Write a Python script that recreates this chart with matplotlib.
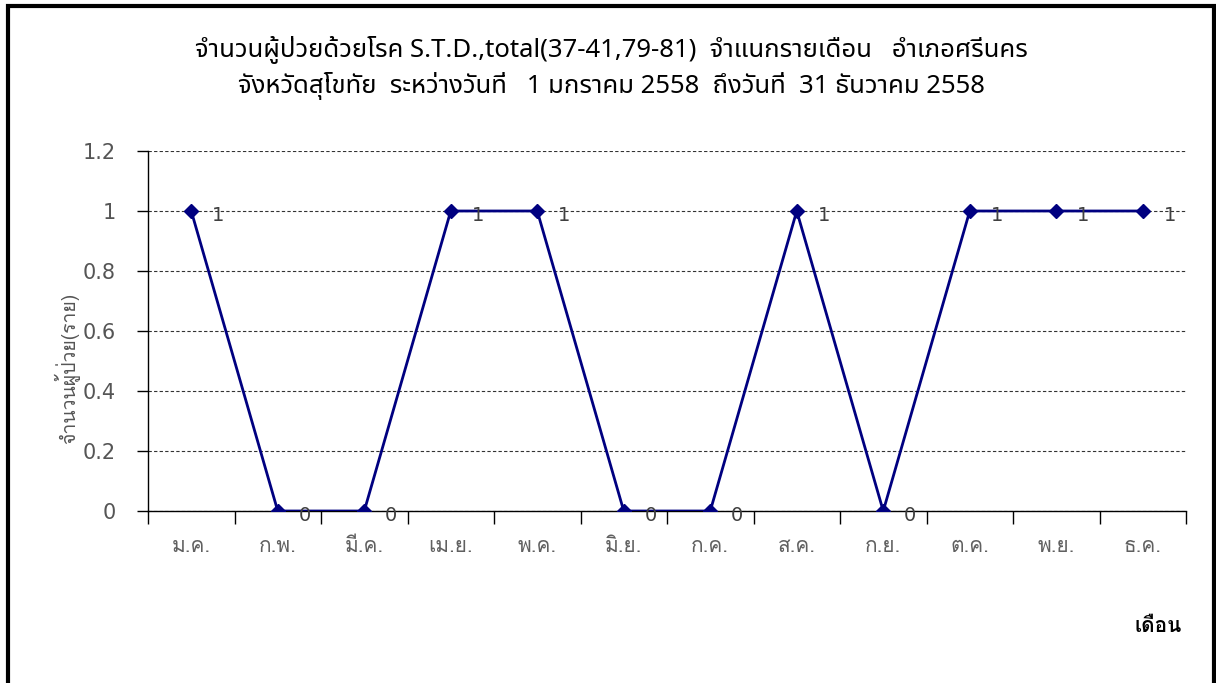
import matplotlib
matplotlib.use("Agg")
import matplotlib.pyplot as plt
from matplotlib.patches import Rectangle
import numpy as np

months = ["ม.ค.", "ก.พ.", "มี.ค.", "เม.ย.", "พ.ค.", "มิ.ย.",
          "ก.ค.", "ส.ค.", "ก.ย.", "ต.ค.", "พ.ย.", "ธ.ค."]
cases = [1, 0, 0, 1, 1, 0, 0, 1, 0, 1, 1, 1]
yticks = [0, 0.2, 0.4, 0.6, 0.8, 1, 1.2]
ytick_labels = ["0", "0.2", "0.4", "0.6", "0.8", "1", "1.2"]

title = ("จำนวนผู้ป่วยด้วยโรค S.T.D.,total(37-41,79-81)  จำแนกรายเดือน   อำเภอศรีนคร\n"
         "จังหวัดสุโขทัย  ระหว่างวันที่   1 มกราคม 2558  ถึงวันที่  31 ธันวาคม 2558")
ylabel = "จำนวนผู้ป่วย(ราย)"
xlabel = "เดือน"

thai = ["Loma", "DejaVu Sans"]
plt.rcParams["font.family"] = thai

fig = plt.figure(figsize=(12.16, 6.83), dpi=100)
ax = fig.add_axes([148 / 1216, 1 - 511 / 683, (1186 - 148) / 1216, 360 / 683])

x = np.arange(len(months))
ax.plot(x, cases, color="#000080", lw=2, marker="D", markersize=7,
        markerfacecolor="#000080", markeredgecolor="#000080", zorder=3)
for xi, v in zip(x, cases):
    ax.text(xi + 0.31, v - 0.015, str(v), fontsize=14, color="#404040",
            ha="center", va="center", zorder=4, family="DejaVu Sans")

ax.set_xlim(-0.5, len(months) - 0.5)
ax.set_ylim(0, 1.2)
ax.set_yticks(yticks)
ax.set_yticklabels(ytick_labels, family="DejaVu Sans")
ax.yaxis.grid(True, linestyle=(0, (3, 2)), color="#333333", lw=0.8)
ax.set_axisbelow(True)

ax.set_xticks(np.arange(-0.5, len(months), 1.0))
ax.set_xticklabels([])
ax.set_xticks(x, minor=True)
ax.set_xticklabels(months, minor=True)
ax.tick_params(axis="x", which="major", length=9, width=1, color="black", direction="out")
ax.tick_params(axis="x", which="minor", length=0, pad=19, labelsize=15, labelcolor="#606060")
ax.tick_params(axis="y", length=8, width=1, direction="out", pad=15, labelsize=15, labelcolor="#555555")

for s in ["top", "right"]:
    ax.spines[s].set_visible(False)
for s in ["left", "bottom"]:
    ax.spines[s].set_color("black")
    ax.spines[s].set_linewidth(1)

fig.text(0.503, 1 - 68 / 683, title, ha="center", va="center", fontsize=18.5,
         linespacing=1.42, color="black", family=["Noto Sans Thai", "DejaVu Sans"])
fig.text(67 / 1216, 1 - 368 / 683, ylabel, rotation=90, ha="center", va="center",
         fontsize=14, color="#555555")
fig.text(1158 / 1216, 1 - 627 / 683, xlabel, ha="center", va="center",
         fontsize=15, fontweight="bold", color="black")

fig.patches.append(Rectangle((8 / 1216, -0.1), 1206 / 1216, 1.1 - 6 / 683,
                             transform=fig.transFigure, fill=False,
                             edgecolor="black", lw=3, clip_on=False))

fig.savefig("out.png", dpi=100)
